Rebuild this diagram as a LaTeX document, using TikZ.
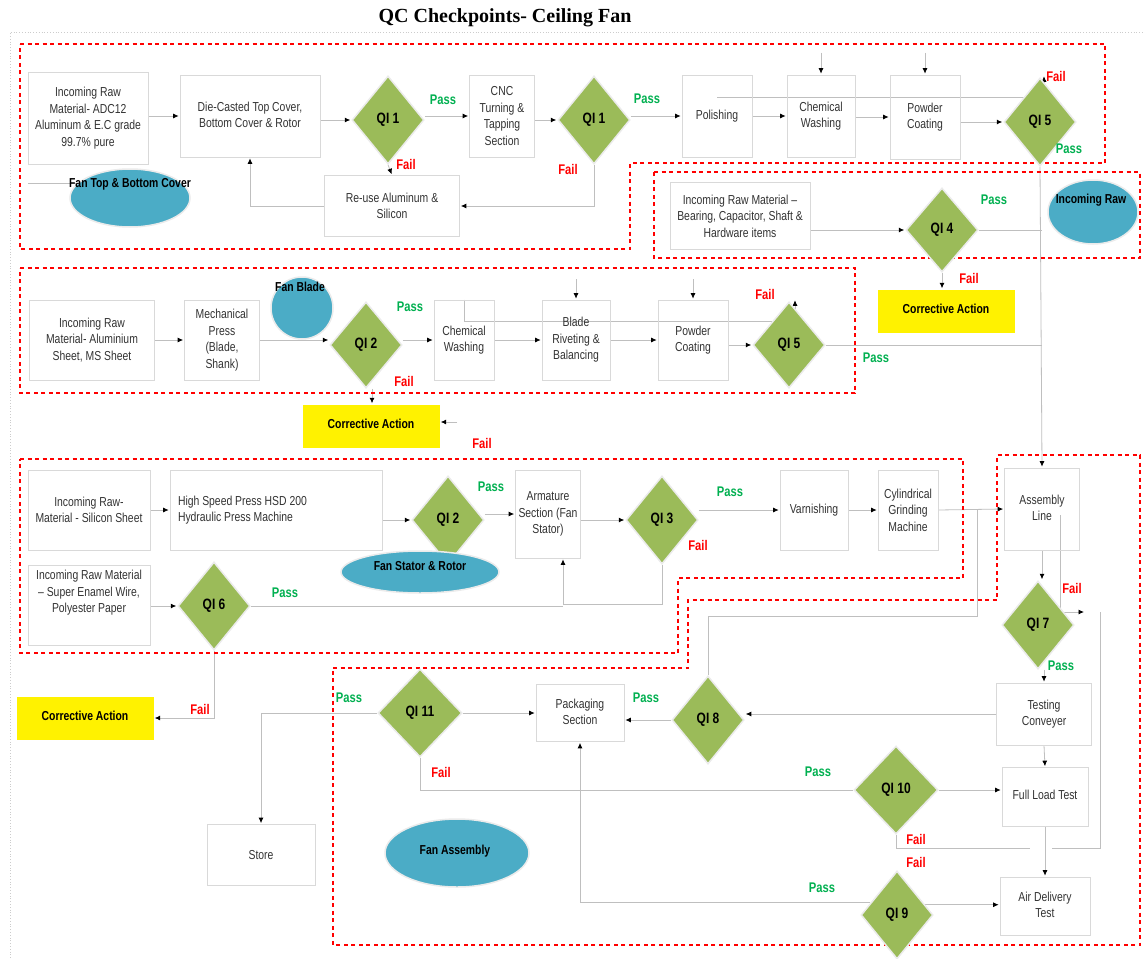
\documentclass[tikz,border=0pt]{standalone}
\usepackage{fontspec}
\setmainfont{Liberation Sans}[FakeStretch=0.8]
\newfontfamily\titlefont{Liberation Serif}
\usetikzlibrary{shapes.geometric,arrows.meta,calc}
\pgfdeclarelayer{bottom}
\pgfdeclarelayer{background}
\pgfsetlayers{bottom,background,main}
\definecolor{qigreen}{HTML}{9BBB59}
\definecolor{ellblue}{HTML}{4BACC6}
\definecolor{passgreen}{HTML}{00B050}
\definecolor{failred}{HTML}{FF0000}
\definecolor{boxgray}{HTML}{D9D9D9}
\definecolor{linegray}{HTML}{BFBFBF}
\begin{document}
\begin{tikzpicture}[x=1pt,y=-1pt,
  proc/.style={draw=boxgray, line width=0.7pt, align=center, inner sep=2pt, font=\fontsize{13}{16.5}\selectfont, text=black!80},
  qi/.style={diamond, fill=qigreen, draw=black!8, line width=1.5pt, minimum width=72pt, minimum height=88pt, inner sep=0pt, font=\bfseries\fontsize{15}{15}\selectfont},
  ell/.style={ellipse, fill=ellblue, draw=black!8, line width=1.5pt, inner sep=0pt},
  elltext/.style={inner sep=0pt, font=\bfseries\fontsize{13}{13}\selectfont},
  ca/.style={fill=yellow, minimum width=137pt, minimum height=43pt, inner sep=0pt, font=\bfseries\fontsize{13}{13}\selectfont},
  pass/.style={inner sep=0pt, text=passgreen, font=\bfseries\fontsize{14}{14}\selectfont},
  fail/.style={inner sep=0pt, text=failred, font=\bfseries\fontsize{14}{14}\selectfont},
  conn/.style={draw=linegray, line width=0.8pt},
  arr/.style={conn, -{Latex[length=5.5pt,width=5pt,color=black]}, shorten >=1pt},
  zone/.style={draw=failred, line width=2.2pt, dash pattern=on 4pt off 3.5pt}
]
\useasboundingbox (0,0) rectangle (1145,958);
\begin{pgfonlayer}{bottom}
\fill[white] (0,0) rectangle (1145,958);
\end{pgfonlayer}
% outer faint frame
\draw[draw=black!20, dotted, line width=0.8pt] (10,958) -- (10,32) -- (1145,32);

% title
\node[font=\titlefont\bfseries\fontsize{20}{20}\selectfont, inner sep=0pt] (title) at (505,18) {QC Checkpoints- Ceiling Fan};

% zones
\draw[zone] (20,44) -- (1105,44) -- (1105,163) -- (630,163) -- (630,249) -- (20,249) -- cycle;
\draw[zone] (654,172) -- (1140,172) -- (1140,258) -- (654,258) -- cycle;
\draw[zone] (20,268) -- (855,268) -- (855,393) -- (20,393) -- cycle;
\draw[zone] (20,459) -- (963,459) -- (963,578) -- (678,578) -- (678,653) -- (20,653) -- cycle;
\draw[zone] (333,668) -- (688,668) -- (688,600) -- (997,600) -- (997,455) -- (1140,455) -- (1140,945) -- (333,945) -- cycle;

% ---- row 1
\node[proc, minimum width=120, minimum height=92] (in1) at (88,118) {Incoming Raw\\Material- ADC12\\Aluminum \& E.C grade\\99.7\% pure};
\node[proc, minimum width=140, minimum height=82] (die) at (250,116) {\raisebox{6pt}{\begin{tabular}{@{}c@{}}Die-Casted Top Cover,\\Bottom Cover \& Rotor\end{tabular}}};
\node[qi] (q1a) at (388,120) {\raisebox{-6pt}{QI 1}};
\node[proc, minimum width=65, minimum height=82] (cnc) at (502,116) {CNC\\Turning \&\\Tapping\\Section};
\node[proc, minimum width=135, minimum height=61] (reuse) at (392,206) {Re-use Aluminum \&\\Silicon};
\node[qi] (q1b) at (594,120) {\raisebox{-6pt}{QI 1}};
\node[proc, minimum width=70, minimum height=82] (pol) at (717,116) {Polishing};
\node[proc, minimum width=68, minimum height=82] (chem1) at (821,116) {Chemical\\Washing};
\node[proc, minimum width=70, minimum height=84] (pc1) at (925,117) {Powder\\Coating};
\node[qi] (q5a) at (1040,122) {\raisebox{-6pt}{QI 5}};
\node[ell, minimum width=120, minimum height=58] (eTop) at (130,198) {};
\node[elltext] (tTop) at (130,184) {Fan Top \& Bottom Cover};
\coordinate (ft) at (28,183);
\coordinate (ab1) at (821,53);
\coordinate (ab2) at (925,53);
\coordinate (f5a) at (717,97);

% ---- row 2
\node[proc, minimum width=140, minimum height=67] (in4) at (740,216) {Incoming Raw Material --\\Bearing, Capacitor, Shaft \&\\Hardware items};
\node[qi, minimum height=84] (q4) at (942,230) {\raisebox{-6pt}{QI 4}};
\node[ell, minimum width=90, minimum height=64] (eRaw) at (1093,212) {};
\node[elltext] (tRaw) at (1091,200) {Incoming Raw};
\node[ca] (ca1) at (946,311) {\raisebox{4pt}{Corrective Action}};

% ---- row 3
\node[proc, minimum width=125, minimum height=80] (in2) at (92,340) {Incoming Raw\\Material- Aluminium\\Sheet, MS Sheet};
\node[proc, minimum width=75, minimum height=80] (mp) at (222,340) {Mechanical\\Press\\(Blade,\\Shank)};
\node[ell, minimum width=62, minimum height=62] (eBlade) at (302,308) {};
\node[elltext] (tBlade) at (300,287) {Fan Blade};
\node[qi, minimum height=86] (q2a) at (366,345) {\raisebox{-6pt}{QI 2}};
\node[proc, minimum width=60, minimum height=80] (chem2) at (464,340) {Chemical\\Washing};
\node[proc, minimum width=68, minimum height=80] (riv) at (576,340) {\raisebox{12pt}{\begin{tabular}{@{}c@{}}Blade\\Riveting \&\\Balancing\end{tabular}}};
\node[proc, minimum width=70, minimum height=80] (pc2) at (693,340) {\raisebox{4pt}{\begin{tabular}{@{}c@{}}Powder\\Coating\end{tabular}}};
\node[qi, minimum height=86] (q5b) at (789,345) {\raisebox{-6pt}{QI 5}};
\node[ca] (ca2) at (371,426) {\raisebox{4pt}{Corrective Action}};
\coordinate (ab3) at (576,279);
\coordinate (ab4) at (693,279);
\coordinate (f2c) at (457,422);

% ---- row 4
\node[proc, minimum width=122, minimum height=80] (in3) at (89,510) {Incoming Raw-\\Material - Silicon Sheet};
\node[proc, minimum width=212, minimum height=80, text width=196, align=flush left, inner xsep=8pt] (hsp) at (276,510) {High Speed Press HSD 200\\Hydraulic Press Machine\\[8pt]};
\node[qi] (q2b) at (448,520) {\raisebox{-6pt}{QI 2}};
\node[proc, minimum width=65, minimum height=88] (arm) at (548,514) {Armature\\Section (Fan\\Stator)};
\node[ell, minimum width=158, minimum height=42] (eStat) at (420,572) {};
\node[elltext] (tStat) at (420,566) {Fan Stator \& Rotor};
\node[qi] (q3) at (662,520) {\raisebox{-6pt}{QI 3}};
\node[proc, minimum width=68, minimum height=80] (var) at (814,510) {Varnishing};
\node[proc, minimum width=60, minimum height=80] (cyl) at (908,510) {Cylindrical\\Grinding\\Machine};
\node[proc, minimum width=122, minimum height=80] (in5) at (89,605) {Incoming Raw Material\\-- Super Enamel Wire,\\Polyester Paper\\[10pt]};
\node[qi] (q6) at (214,606) {\raisebox{-6pt}{QI 6}};
\node[ca] (ca3) at (85,718) {\raisebox{4pt}{Corrective Action}};
\coordinate (armj) at ([xshift=15pt]arm.south);

% ---- assembly
\node[proc, minimum width=75, minimum height=82] (asm) at (1042,509) {\raisebox{-10pt}{\begin{tabular}{@{}c@{}}Assembly\\Line\end{tabular}}};
\node[qi] (q7) at (1038,625) {\raisebox{-6pt}{QI 7}};
\node[proc, minimum width=95, minimum height=62] (tc) at (1044,714) {\raisebox{4pt}{\begin{tabular}{@{}c@{}}Testing\\Conveyer\end{tabular}}};
\node[qi] (q8) at (708,720) {\raisebox{-6pt}{QI 8}};
\node[proc, minimum width=88, minimum height=57] (pack) at (580,713) {\raisebox{4pt}{\begin{tabular}{@{}c@{}}Packaging\\Section\end{tabular}}};
\node[proc, minimum width=86, minimum height=59] (fl) at (1045,797) {\raisebox{4pt}{Full Load Test}};
\node[qi, minimum width=84] (q10) at (896,790) {\raisebox{-6pt}{QI 10}};
\node[proc, minimum width=90, minimum height=58] (ad) at (1045,906) {\raisebox{-6pt}{\begin{tabular}{@{}c@{}}Air Delivery\\Test\end{tabular}}};
\node[qi] (q9) at (897,915) {\raisebox{-6pt}{QI 9}};
\node[qi, minimum width=84] (q11) at (420,713) {\raisebox{-6pt}{QI 11}};
\node[proc, minimum width=108, minimum height=61] (store) at (261,855) {Store};
\node[ell, minimum width=144, minimum height=68] (eAsm) at (457,853) {};
\node[elltext] (tAsm) at (455,851) {Fan Assembly};
\coordinate (f7a) at (1060,515);
\coordinate (f7b) at (1085,612);
\coordinate (f7c) at (1100,612);
\coordinate (f7d) at (1052,848);
\coordinate (f10) at (1030,848);

% ---- labels
\node[pass] (l1) at (443,100) {Pass};
\node[fail] (l2) at (406,164) {Fail};
\node[fail] (l3) at (568,169) {Fail};
\node[pass] (l4) at (647,99) {Pass};
\node[fail] (l5) at (1056,76) {Fail};
\node[pass] (l6) at (1069,149) {Pass};
\node[pass] (l7) at (994,200) {Pass};
\node[fail] (l8) at (969,278) {Fail};
\node[pass] (l9) at (410,307) {Pass};
\node[fail] (l10) at (765,294) {Fail};
\node[pass] (l11) at (876,358) {Pass};
\node[fail] (l12) at (404,381) {Fail};
\node[fail] (l13) at (482,443) {Fail};
\node[pass] (l14) at (491,487) {Pass};
\node[pass] (l15) at (730,492) {Pass};
\node[fail] (l16) at (698,545) {Fail};
\node[pass] (l17) at (285,593) {Pass};
\node[fail] (l18) at (200,709) {Fail};
\node[fail] (l19) at (1072,588) {Fail};
\node[pass] (l20) at (1061,666) {Pass};
\node[pass] (l21) at (646,698) {Pass};
\node[pass] (l22) at (349,698) {Pass};
\node[pass] (l23) at (818,772) {Pass};
\node[fail] (l24) at (441,772) {Fail};
\node[fail] (l25) at (916,839) {Fail};
\node[fail] (l26) at (916,862) {Fail};
\node[pass] (l27) at (822,888) {Pass};

% ---- connectors
\begin{pgfonlayer}{background}
\draw[conn] (ft) -- (ft -| eTop.160);
\draw[arr] (in1.east |- die.west) -- (die.west);
\draw[arr] (die.east |- q1a.west) -- (q1a.west);
\draw[arr] (q1a.east |- cnc.west) -- (cnc.west);
\draw[arr] (q1a.south) -- (reuse.north);
\draw[arr] (reuse.west) -| (die.south);
\draw[arr] (cnc.east |- q1b.west) -- (q1b.west);
\draw[arr] (q1b.south) |- (reuse.east);
\draw[arr] (q1b.east |- pol.west) -- (pol.west);
\draw[arr] (pol.east) -- (chem1.west);
\draw[arr] (chem1.east |- pc1.west) -- (pc1.west);
\draw[arr] (pc1.east |- q5a.west) -- (q5a.west);
\draw[arr] (ab1) -- (chem1.north);
\draw[arr] (ab2) -- (pc1.north);
\draw[arr] (f5a) -| ([xshift=4pt,yshift=2pt]q5a.north);
\draw[arr] (q5a.south) -- (asm.north);

\draw[arr] (in4.east |- q4.west) -- (q4.west);
\draw[conn] (q4.east) -- (q4.east -| asm.north);
\draw[arr] (q4.south) -- (ca1.north -| q4.south);

\draw[arr] (in2.east) -- (mp.west);
\draw[arr] (mp.east) -- (q2a.west |- mp.east);
\draw[arr] (q2a.east |- chem2.west) -- (chem2.west);
\draw[arr] (chem2.east) -- (riv.west);
\draw[arr] (riv.east) -- (pc2.west);
\draw[arr] (pc2.east |- q5b.west) -- (q5b.west);
\draw[arr] (ab3) -- (riv.north);
\draw[arr] (ab4) -- (pc2.north);
\draw[arr] (chem2.north) -- ++(0,22) -| ([xshift=6pt,yshift=2pt]q5b.north);
\draw[conn] (q5b.east) -- (q5b.east -| asm.north);
\draw[arr] ([xshift=6pt]q2a.south) -- ([xshift=6pt]q2a.south |- ca2.north);
\draw[arr] (f2c) -- (f2c -| ca2.east);

\draw[arr] (in3.east) -- (hsp.west);
\draw[arr] (hsp.east |- q2b.west) -- (q2b.west);
\draw[arr] (q2b.east |- arm.west) -- (arm.west);
\draw[arr] (arm.east |- q3.west) -- (q3.west);
\draw[arr] (q3.east |- var.west) -- (var.west);
\draw[arr] (var.east) -- (cyl.west);
\draw[arr] (cyl.east) -- (asm.west);
\draw[arr] (q3.south) -- ++(0,40) -| (armj);
\draw[conn] (q6.east) -- (q6.east -| armj);
\draw[arr] (in5.east |- q6.west) -- (q6.west);
\draw[arr] (q6.south) |- (ca3.east);
\coordinate (br) at ($(cyl.east)!0.6!(asm.west)$);
\draw[conn] (br) -- ++(0,107) -| (q8.north);

\draw[arr] (asm.south) -- (asm.south |- q7.north);
\draw[arr] (f7a) |- (f7b);
\draw[conn] (f7c) |- (f7d);
\draw[arr] (q7.south -| tc.north) -- (tc.north);
\draw[arr] (tc.west) -- (q8.east |- tc.west);
\draw[arr] (q8.west) -- (pack.east |- q8.west);
\draw[arr] (tc.south) -- (fl.north);
\draw[arr] (q10.east) -- (q10.east -| fl.west);
\draw[conn] (q10.west) -| (q11.south);
\draw[conn] (q10.south) |- (f10);
\draw[arr] (fl.south) -- (ad.north);
\draw[arr] (q9.20) -- (q9.20 -| ad.west);
\draw[arr] (q9.155) -| (pack.south);
\draw[arr] (q11.east) -- (pack.west |- q11.east);
\draw[arr] (q11.west) -| (store.north);
\end{pgfonlayer}
\end{tikzpicture}
\end{document}
